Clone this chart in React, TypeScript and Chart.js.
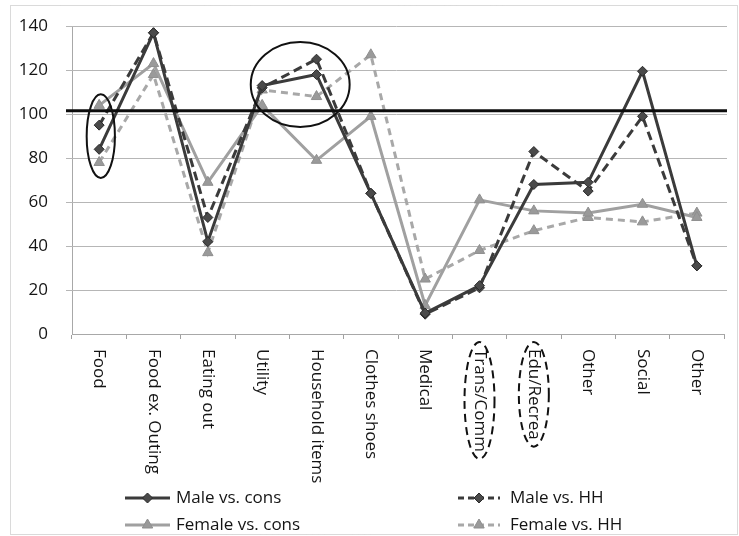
import React, { useEffect, useRef } from 'react';
import { Chart, registerables } from 'chart.js';

Chart.register(...registerables);

const categories = [
  'Food', 'Food ex. Outing', 'Eating out', 'Utility', 'Household items', 'Clothes shoes',
  'Medical', 'Trans/Comm', 'Edu/Recrea', 'Other', 'Social', 'Other',
];
const maleVsCons = [84, 137, 42, 113, 118, 64, 9.5, 22, 68, 69, 119.5, 31];
const maleVsHH = [95, 137, 53, 112, 125, 64, 9, 21, 83, 65, 99, 31];
const femaleVsCons = [104, 123, 69, 104, 79, 99, 13, 61, 56, 55, 59, 53];
const femaleVsHH = [78, 118, 37, 111, 108, 127, 25, 38, 47, 53, 51, 55];
const seriesLabels = ['Male vs. cons', 'Male vs. HH', 'Female vs. cons', 'Female vs. HH'];
const yMin = 0;
const yMax = 140;
const yStep = 20;
const referenceValue = 101.5;

// highlight ellipses in data units (category index, value)
const solidEllipseCenterX = [0.03, 3.7];
const solidEllipseCenterY = [90, 113.5];
const solidEllipseRadiusX = [0.26, 0.91];
const solidEllipseRadiusY = [19, 19.3];
// dashed ellipses around category labels
const dashedLabelIndices = [7, 8];

const FONT = "'Open Sans', 'DejaVu Sans', sans-serif";
const DARK = '#3b3b3b';
const DARK_PT = '#4a4a4a';
const GRAY = '#a0a0a0';
const GRAY_PT = '#9a9a9a';

function drawMarker(ctx: CanvasRenderingContext2D, style: string, x: number, y: number, r: number, fill: string, stroke: string) {
  ctx.save();
  ctx.setLineDash([]);
  ctx.beginPath();
  if (style === 'rectRot') {
    ctx.moveTo(x, y - r);
    ctx.lineTo(x + r, y);
    ctx.lineTo(x, y + r);
    ctx.lineTo(x - r, y);
  } else {
    ctx.moveTo(x, y - r);
    ctx.lineTo(x + r * 0.87, y + r * 0.5);
    ctx.lineTo(x - r * 0.87, y + r * 0.5);
  }
  ctx.closePath();
  ctx.fillStyle = fill;
  ctx.fill();
  ctx.lineWidth = 1;
  ctx.strokeStyle = stroke;
  ctx.stroke();
  ctx.restore();
}

const decorPlugin = {
  id: 'decor',
  beforeDraw(chart: any) {
    const { ctx, width, height } = chart;
    ctx.save();
    ctx.fillStyle = '#ffffff';
    ctx.fillRect(0, 0, width, height);
    ctx.strokeStyle = '#b4b4b4';
    ctx.lineWidth = 1;
    ctx.setLineDash([1, 1]);
    ctx.strokeRect(10.5, 5.5, width - 12, height - 7);
    ctx.restore();
  },
  beforeDatasetsDraw(chart: any) {
    const { ctx, chartArea } = chart;
    const ys = chart.scales.y;
    ctx.save();
    ctx.setLineDash([]);
    ctx.strokeStyle = '#b6b6b6';
    ctx.lineWidth = 1;
    yTickValues().forEach((v) => {
      const y = Math.round(ys.getPixelForValue(v)) + 0.5;
      ctx.beginPath();
      ctx.moveTo(chartArea.left - 6, y);
      ctx.lineTo(chartArea.right + 3, y);
      ctx.stroke();
    });
    ctx.restore();
  },
  afterDraw(chart: any) {
    const { ctx, chartArea } = chart;
    const xs = chart.scales.x;
    const ys = chart.scales.y;

    ctx.save();
    // reference line
    const yRef = ys.getPixelForValue(referenceValue);
    ctx.strokeStyle = '#0d0d0d';
    ctx.lineWidth = 3;
    ctx.beginPath();
    ctx.moveTo(chartArea.left - 6, yRef);
    ctx.lineTo(chartArea.right + 3, yRef);
    ctx.stroke();

    // solid highlight ellipses
    const catW = xs.getPixelForValue(1) - xs.getPixelForValue(0);
    const unit = ys.getPixelForValue(0) - ys.getPixelForValue(1);
    ctx.lineWidth = 2;
    ctx.strokeStyle = '#111';
    for (let i = 0; i < solidEllipseCenterX.length; i++) {
      const cx = xs.getPixelForValue(0) + solidEllipseCenterX[i] * catW;
      const cy = ys.getPixelForValue(solidEllipseCenterY[i]);
      ctx.beginPath();
      ctx.ellipse(cx, cy, solidEllipseRadiusX[i] * catW, solidEllipseRadiusY[i] * unit, 0, 0, Math.PI * 2);
      ctx.stroke();
    }

    // rotated category labels (reading top to bottom)
    ctx.fillStyle = '#141414';
    ctx.font = `17px ${FONT}`;
    ctx.textAlign = 'left';
    ctx.textBaseline = 'middle';
    const labelTop = xs.top + 15;
    categories.forEach((c, i) => {
      const x = xs.getPixelForValue(i);
      ctx.save();
      ctx.translate(x, labelTop);
      ctx.rotate(Math.PI / 2);
      ctx.fillText(c, 0, 0);
      ctx.restore();
    });

    // dashed ellipses around selected labels
    ctx.strokeStyle = '#111';
    ctx.lineWidth = 2;
    ctx.setLineDash([8, 5]);
    dashedLabelIndices.forEach((idx) => {
      const x = xs.getPixelForValue(idx);
      const w = ctx.measureText(categories[idx]).width;
      const cy = labelTop + w / 2;
      ctx.beginPath();
      ctx.ellipse(x, cy, 15, w / 2 + 7, 0, 0, Math.PI * 2);
      ctx.stroke();
    });
    ctx.setLineDash([]);

    // legend (2 columns x 2 rows)
    const cols = [
      { x1: 125, x2: 170, tx: 176 },
      { x1: 458, x2: 500, tx: 510 },
    ];
    const rows = [498, 525];
    const styles = chart.data.datasets;
    ctx.font = `17px ${FONT}`;
    ctx.textBaseline = 'middle';
    styles.forEach((ds: any, i: number) => {
      const col = cols[i % 2];
      const y = rows[Math.floor(i / 2)];
      ctx.save();
      ctx.strokeStyle = ds.borderColor;
      ctx.lineWidth = 3;
      ctx.setLineDash(ds.borderDash && ds.borderDash.length ? [6, 4] : []);
      ctx.beginPath();
      ctx.moveTo(col.x1, y);
      ctx.lineTo(col.x2, y);
      ctx.stroke();
      ctx.restore();
      drawMarker(ctx, ds.pointStyle, (col.x1 + col.x2) / 2, y, ds.pointRadius, ds.pointBackgroundColor, ds.pointBorderColor);
      ctx.fillStyle = '#141414';
      ctx.fillText(seriesLabels[i], col.tx, y);
    });
    ctx.restore();
  },
};

function yTickValues() {
  const vals: number[] = [];
  for (let v = yMin + yStep; v <= yMax; v += yStep) vals.push(v);
  return vals;
}

export default function App() {
  const canvasRef = useRef<HTMLCanvasElement | null>(null);

  useEffect(() => {
    document.body.style.margin = '0';
    document.body.style.background = '#ffffff';
    const canvas = canvasRef.current;
    if (!canvas) return;
    Chart.defaults.font.family = FONT;
    const chart = new Chart(canvas, {
      type: 'line',
      data: {
        labels: categories,
        datasets: [
          {
            label: seriesLabels[0], data: maleVsCons, borderColor: DARK, backgroundColor: DARK_PT,
            borderWidth: 3, pointStyle: 'rectRot', pointRadius: 5, pointBackgroundColor: DARK_PT,
            pointBorderColor: '#2a2a2a', pointBorderWidth: 1, tension: 0, fill: false, borderDash: [],
          },
          {
            label: seriesLabels[1], data: maleVsHH, borderColor: DARK, backgroundColor: DARK_PT,
            borderWidth: 3, borderDash: [9, 5], pointStyle: 'rectRot', pointRadius: 5, pointBackgroundColor: DARK_PT,
            pointBorderColor: '#2a2a2a', pointBorderWidth: 1, tension: 0, fill: false,
          },
          {
            label: seriesLabels[2], data: femaleVsCons, borderColor: GRAY, backgroundColor: GRAY_PT,
            borderWidth: 3, pointStyle: 'triangle', pointRadius: 6, pointBackgroundColor: GRAY_PT,
            pointBorderColor: '#8f8f8f', pointBorderWidth: 1, tension: 0, fill: false, borderDash: [],
          },
          {
            label: seriesLabels[3], data: femaleVsHH, borderColor: '#a8a8a8', backgroundColor: GRAY_PT,
            borderWidth: 3, borderDash: [7, 5], pointStyle: 'triangle', pointRadius: 6, pointBackgroundColor: GRAY_PT,
            pointBorderColor: '#8f8f8f', pointBorderWidth: 1, tension: 0, fill: false,
          },
        ],
      },
      options: {
        responsive: false,
        animation: false,
        layout: { padding: { left: 10, right: 15, top: 26, bottom: 0 } },
        plugins: { legend: { display: false }, tooltip: { enabled: false } },
        scales: {
          x: {
            offset: true,
            ticks: { display: false },
            grid: { offset: true, drawOnChartArea: false, tickLength: 5, color: '#a0a0a0' },
            border: { color: '#a8a8a8', width: 1 },
            afterFit: (s: any) => { s.height = 202; },
          },
          y: {
            min: yMin,
            max: yMax,
            ticks: { stepSize: yStep, padding: 16, color: '#141414', font: { size: 17, family: FONT } },
            grid: { display: false },
            border: { color: '#a8a8a8', width: 1 },
            afterFit: (s: any) => { s.width = 62; },
          },
        },
      },
      plugins: [decorPlugin],
    } as any);
    return () => chart.destroy();
  }, []);

  return (
    <div style={{ position: 'absolute', left: 0, top: 0, width: 739, height: 536 }}>
      <canvas ref={canvasRef} width={739} height={536} style={{ width: 739, height: 536, display: 'block' }} />
    </div>
  );
}
